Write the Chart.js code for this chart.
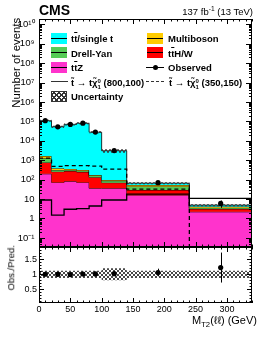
<!DOCTYPE html>
<html>
<head>
<meta charset="utf-8">
<title>MT2(ll) distribution</title>
<script src="https://cdn.jsdelivr.net/npm/chart.js@4.4.1/dist/chart.umd.min.js"></script>
<style>
  html, body { margin: 0; padding: 0; background: #fff; }
  #wrap { position: relative; width: 266px; height: 347px; overflow: hidden;
          font-family: 'Liberation Sans', Arial, Helvetica, sans-serif; color: #000; }
  #wrap canvas { position: absolute; left: 0; }
  .txt { position: absolute; white-space: nowrap; }
  .leg { position: absolute; font-size: 9.5px; font-weight: bold; line-height: 9.5px; white-space: nowrap; }
  .box { position: absolute; width: 16px; height: 11px; }
  .box::after { content: ''; position: absolute; left: 0; right: 0; top: 5px; height: 1px; background: #000; }
  .ov { text-decoration: overline; }
  .ss { display: inline-block; vertical-align: -3px; font-size: 6px; line-height: 5.5px; }
  .ss span { display: block; }
  .hatch { background:
      repeating-linear-gradient(45deg, #333 0 1px, transparent 1px 3.5px),
      repeating-linear-gradient(-45deg, #333 0 1px, transparent 1px 3.5px); }
  sup, sub { line-height: 0; font-size: 70%; }
</style>
</head>
<body>
<div id="wrap">
  <canvas id="main" width="266" height="258" style="top:0"></canvas>
  <canvas id="ratio" width="266" height="110" style="top:237px"></canvas>

  <div class="txt" style="left:39px;top:3px;font-size:14px;line-height:14px;font-weight:bold;">CMS</div>
  <div class="txt" style="right:13px;top:6.5px;font-size:9.5px;line-height:9.5px;">137 fb<sup>-1</sup> (13 TeV)</div>

  <!-- legend -->
  <div class="box" style="left:51px;top:32.5px;background:#00ffff"></div>
  <div class="leg" style="left:71px;top:34.2px">t<span class="ov">t</span>/single t</div>
  <div class="box" style="left:147px;top:32.5px;background:#ffcc00"></div>
  <div class="leg" style="left:168px;top:34.2px">Multiboson</div>

  <div class="box" style="left:51px;top:47px;background:#55cc55"></div>
  <div class="leg" style="left:71px;top:48.7px">Drell-Yan</div>
  <div class="box" style="left:147px;top:47px;background:#ff0000"></div>
  <div class="leg" style="left:168px;top:48.7px">t<span class="ov">t</span>H/W</div>

  <div class="box" style="left:51px;top:61.5px;background:#ff33cc"></div>
  <div class="leg" style="left:71px;top:63.2px">t<span class="ov">t</span>Z</div>
  <div style="position:absolute;left:146px;top:66.5px;width:18px;height:1px;background:#000"></div>
  <div style="position:absolute;left:152.5px;top:64.5px;width:5px;height:5px;border-radius:50%;background:#000"></div>
  <div class="leg" style="left:168px;top:63.2px">Observed</div>

  <div style="position:absolute;left:51px;top:80.8px;width:17px;height:1.4px;background:#333"></div>
  <div class="leg" style="left:71px;top:77.7px">t&#771; &#8594; t&#967;&#771;<span class="ss"><span>0</span><span>1</span></span> (800,100)</div>
  <div style="position:absolute;left:146px;top:80.8px;width:18px;height:1.4px;background:repeating-linear-gradient(90deg,#333 0 3px,transparent 3px 5px)"></div>
  <div class="leg" style="left:169px;top:77.7px">t&#771; &#8594; t&#967;&#771;<span class="ss"><span>0</span><span>1</span></span> (350,150)</div>

  <div class="hatch" style="position:absolute;left:51px;top:90.5px;width:16px;height:11px;box-sizing:border-box;border:1px solid #333"></div>
  <div class="leg" style="left:71px;top:92.2px">Uncertainty</div>

  <!-- axis titles -->
  <div class="txt" style="left:-43.5px;top:57.3px;width:120px;height:11.4px;font-size:11.4px;line-height:11.4px;text-align:center;transform:rotate(-90deg)">Number of events</div>
  <div class="txt" style="left:-29.3px;top:262.8px;width:80px;height:9.5px;font-size:9.5px;line-height:9.5px;text-align:center;transform:rotate(-90deg)">Obs./Pred.</div>
  <div class="txt" style="right:9px;top:314.7px;font-size:11px;line-height:11px;">M<sub>T2</sub>(&#8467;&#8467;) (GeV)</div>
</div>

<script>
// bin edges in GeV
const binEdges = [0, 20, 40, 60, 80, 100, 140, 240, 340];

// background predictions (events per bin), stacked bottom to top
const ttZ          = [200, 72, 82, 72, 36, 36, 16, 2.2];
const ttHW         = [570, 188, 198, 178, 97, 34, 13, 0.9];
const drellYan     = [490, 56, 40, 40, 30, 18, 16, 0.45];
const multiboson   = [380, 70, 35, 26, 12, 8, 8, 0.55];
const ttbarSingleT = [108000, 52600, 70600, 80200, 27800, 3000, 13, 0.8];

const observed = [109800, 52900, 70300, 81300, 28300, 3160, 70, 6];

// signal points (m_stop, m_LSP)
const stop800 = [9, 1.5, 3.0, 3.2, 4.4, 9, 18, 11];
const stop350 = [1300, 480, 530, 530, 500, 350, 33, 0.001];

// relative uncertainty of the prediction
const relUnc = [0.12, 0.12, 0.12, 0.12, 0.12, 0.2, 0.12, 0.12];

const xTickLabels = [0, 50, 100, 150, 200, 250, 300];
const yTickValues = [0.1, 1, 10, 1e2, 1e3, 1e4, 1e5, 1e6, 1e7, 1e8, 1e9, 1e10];
const ratioTickValues = [0.5, 1, 1.5];

const layers = [
    { vals: ttZ, color: '#ff33cc' },
    { vals: ttHW, color: '#ff0000' },
    { vals: drellYan, color: '#55cc55' },
    { vals: multiboson, color: '#ffcc00' },
    { vals: ttbarSingleT, color: '#00ffff' }
];

const nBins = binEdges.length - 1;
const centers = binEdges.slice(0, -1).map((e, i) => (e + binEdges[i + 1]) / 2);
// one point per edge; with stepped: true the line holds each value until the next edge
const hist = vals => binEdges.map((e, i) => ({ x: e, y: vals[Math.min(i, nBins - 1)] }));

let running = new Array(nBins).fill(0);
const cumulative = layers.map(l => (running = running.map((v, i) => v + l.vals[i])));
const total = running;

const ratio = observed.map((o, i) => o / total[i]);
const ratioErr = observed.map((o, i) => Math.sqrt(o) / total[i]);

Chart.defaults.font.family = "'Liberation Sans', Arial, Helvetica, sans-serif";
Chart.defaults.color = '#000';

function hatchPattern() {
    const c = document.createElement('canvas');
    c.width = c.height = 4;
    const g = c.getContext('2d');
    g.strokeStyle = '#333';
    g.lineWidth = 0.9;
    g.beginPath();
    for (const o of [-4, 0, 4]) {
        g.moveTo(o, 0); g.lineTo(o + 4, 4);
        g.moveTo(o + 4, 0); g.lineTo(o, 4);
    }
    g.stroke();
    return g.createPattern(c, 'repeat');
}
const hatch = hatchPattern();

const SUP = { '-': '\u207b', '0': '\u2070', '1': '\u00b9', '2': '\u00b2', '3': '\u00b3',
    '4': '\u2074', '5': '\u2075', '6': '\u2076', '7': '\u2077', '8': '\u2078', '9': '\u2079' };
function powerLabel(v) {
    const e = Math.round(Math.log10(v));
    if (e === 0) return '1';
    if (e === 1) return '10';
    return '10' + String(e).split('').map(c => SUP[c]).join('');
}

// ROOT-like frame with inward ticks on all four sides, plus error bars
function axisFrame(xMarks, yMarks, bars) {
    return {
        id: 'axisFrame',
        afterDatasetsDraw(chart) {
            const { ctx, chartArea: a, scales: { x, y } } = chart;
            ctx.save();
            ctx.strokeStyle = '#000';
            ctx.lineWidth = 1;
            ctx.beginPath();
            bars.forEach(b => {
                const px = Math.round(x.getPixelForValue(b.x)) + 0.5;
                ctx.moveTo(px, Math.min(y.getPixelForValue(b.lo), a.bottom));
                ctx.lineTo(px, y.getPixelForValue(b.hi));
            });
            xMarks.forEach(([v, len]) => {
                const px = Math.round(x.getPixelForValue(v)) + 0.5;
                ctx.moveTo(px, a.bottom); ctx.lineTo(px, a.bottom - len);
                ctx.moveTo(px, a.top); ctx.lineTo(px, a.top + len);
            });
            yMarks.forEach(([v, len]) => {
                const py = Math.round(y.getPixelForValue(v)) + 0.5;
                ctx.moveTo(a.left, py); ctx.lineTo(a.left + len, py);
                ctx.moveTo(a.right, py); ctx.lineTo(a.right - len, py);
            });
            ctx.stroke();
            ctx.strokeRect(a.left + 0.5, a.top + 0.5, a.right - a.left - 1, a.bottom - a.top - 1);
            ctx.restore();
        }
    };
}

const xMarks = [];
for (let v = 0; v <= 340; v += 10) xMarks.push([v, v % 50 === 0 ? 5 : 2.5]);

const yMin = 0.034, yMax = 1.9e10;
const logMarks = [];
for (let k = -2; k <= 10; k++) {
    for (let m = 1; m <= 9; m++) {
        const v = m * Math.pow(10, k);
        if (v >= yMin && v <= yMax) logMarks.push([v, m === 1 ? 6 : 3]);
    }
}
const ratioMarks = [];
for (let i = 1; i <= 19; i++) ratioMarks.push([i / 10, i % 5 === 0 ? 5 : 2.5]);

const mainSets = layers.map((l, i) => ({
    data: hist(cumulative[i]),
    stepped: true,
    borderColor: '#000',
    borderWidth: 0.8,
    backgroundColor: l.color,
    fill: i === 0 ? 'start' : '-1',
    pointRadius: 0,
    order: 20 - i
}));
mainSets.push(
    { data: hist(total.map((t, i) => t * (1 + relUnc[i]))), stepped: true, borderWidth: 0,
      fill: false, pointRadius: 0, order: 10 },
    { data: hist(total.map((t, i) => t * (1 - relUnc[i]))), stepped: true, borderWidth: 0,
      backgroundColor: hatch, fill: '-1', pointRadius: 0, order: 10 },
    { data: hist(stop800), stepped: true, borderColor: '#000', borderWidth: 1.3,
      fill: false, pointRadius: 0, order: 5 },
    { data: hist(stop350), stepped: true, borderColor: '#000', borderWidth: 1.3, borderDash: [4, 3],
      fill: false, pointRadius: 0, order: 4 },
    { data: centers.map((c, i) => ({ x: c, y: observed[i] })), showLine: false,
      pointRadius: 2.6, pointBackgroundColor: '#000', pointBorderWidth: 0, order: 1 }
);

new Chart(document.getElementById('main'), {
    type: 'line',
    data: { datasets: mainSets },
    options: {
        responsive: false,
        animation: false,
        events: [],
        layout: { padding: { left: 0, right: 14, top: 19, bottom: 11 } },
        plugins: { legend: { display: false }, tooltip: { enabled: false } },
        scales: {
            x: { type: 'linear', min: 0, max: 340, display: false },
            y: {
                type: 'logarithmic',
                min: yMin,
                max: yMax,
                grid: { display: false, drawTicks: false },
                border: { display: false },
                afterFit: s => { s.width = 39; },
                afterBuildTicks: s => { s.ticks = yTickValues.map(v => ({ value: v })); },
                ticks: { padding: 4.5, autoSkip: false, color: '#000', font: { size: 9.5 }, callback: v => powerLabel(v) }
            }
        }
    },
    plugins: [axisFrame(xMarks, logMarks,
        centers.map((c, i) => ({ x: c, lo: observed[i] - Math.sqrt(observed[i]), hi: observed[i] + Math.sqrt(observed[i]) })))]
});

new Chart(document.getElementById('ratio'), {
    type: 'line',
    data: {
        datasets: [
            { data: hist(relUnc.map(u => 1 + u)), stepped: true, borderWidth: 0, fill: false, pointRadius: 0, order: 10 },
            { data: hist(relUnc.map(u => 1 - u)), stepped: true, borderWidth: 0, backgroundColor: hatch,
              fill: '-1', pointRadius: 0, order: 10 },
            { data: centers.map((c, i) => ({ x: c, y: ratio[i] })), showLine: false,
              pointRadius: 2.6, pointBackgroundColor: '#000', pointBorderWidth: 0, order: 1 }
        ]
    },
    options: {
        responsive: false,
        animation: false,
        events: [],
        layout: { padding: { left: 0, right: 14, top: 10, bottom: 0 } },
        plugins: { legend: { display: false }, tooltip: { enabled: false } },
        scales: {
            x: {
                type: 'linear', min: 0, max: 340,
                grid: { display: false, drawTicks: false },
                border: { display: false },
                afterFit: s => { s.height = 44; },
                afterBuildTicks: s => { s.ticks = xTickLabels.map(v => ({ value: v })); },
                ticks: { padding: 1, autoSkip: false, maxRotation: 0, color: '#000', font: { size: 9 } }
            },
            y: {
                type: 'linear', min: 0.043, max: 1.91,
                grid: { display: false, drawTicks: false },
                border: { display: false },
                afterFit: s => { s.width = 39; },
                afterBuildTicks: s => { s.ticks = ratioTickValues.map(v => ({ value: v })); },
                ticks: { padding: 2, autoSkip: false, color: '#000', font: { size: 9 }, callback: v => String(v) }
            }
        }
    },
    plugins: [axisFrame(xMarks, ratioMarks,
        centers.map((c, i) => ({ x: c, lo: ratio[i] - ratioErr[i], hi: ratio[i] + ratioErr[i] })))]
});
</script>
</body>
</html>
